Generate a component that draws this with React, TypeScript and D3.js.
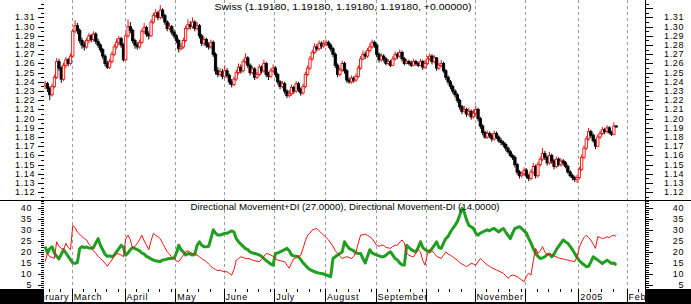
import React from "react";
import * as d3 from "d3";

const firstOpen = 1.236;
const closes = [
  1.2380,1.2330,1.2260,1.2350,1.2450,1.2620,1.2550,1.2430,1.2580,1.2640,1.2600,1.2680,
  1.2950,1.3010,1.2960,1.2850,1.2800,1.2780,1.2850,1.2900,1.2860,1.2920,1.2840,1.2800,1.2750,1.2680,1.2600,1.2560,1.2620,1.2700,1.2780,1.2830,1.2870,1.2800,1.2640,
  1.2900,1.3000,1.2960,1.2850,1.2800,1.2780,1.2830,1.2950,1.2990,1.2920,1.2900,1.3050,1.3120,1.3150,1.3100,1.3180,1.3120,1.3050,1.2980,1.3000,1.2940,1.2900,
  1.2850,1.2760,1.2780,1.2850,1.2980,1.3020,1.3000,1.3050,1.2980,1.3010,1.2900,1.2820,1.2860,1.2800,1.2780,1.2830,1.2700,1.2520,1.2480,1.2510,1.2460,
  1.2520,1.2470,1.2400,1.2370,1.2430,1.2500,1.2560,1.2520,1.2620,1.2660,1.2580,1.2500,1.2540,1.2450,1.2480,1.2560,1.2520,1.2600,1.2480,1.2460,1.2520,1.2550,
  1.2480,1.2400,1.2350,1.2380,1.2300,1.2250,1.2270,1.2340,1.2300,1.2380,1.2320,1.2280,1.2350,1.2480,1.2550,1.2650,1.2720,1.2780,1.2760,1.2820,1.2790,1.2810,
  1.2830,1.2800,1.2760,1.2700,1.2580,1.2480,1.2530,1.2600,1.2520,1.2420,1.2400,1.2440,1.2420,1.2460,1.2550,1.2650,1.2700,1.2680,1.2740,1.2780,1.2830,1.2800,
  1.2700,1.2640,1.2680,1.2650,1.2600,1.2620,1.2580,1.2650,1.2700,1.2680,1.2720,1.2650,1.2600,1.2620,1.2600,1.2580,1.2620,1.2600,1.2580,1.2620,1.2560,1.2600,
  1.2650,1.2680,1.2620,1.2660,1.2550,1.2580,1.2600,1.2520,1.2450,1.2400,1.2350,1.2300,1.2260,1.2200,1.2130,1.2080,1.2100,1.2050,1.2080,1.2020,1.2060,
  1.2100,1.2000,1.1920,1.1850,1.1800,1.1840,1.1820,1.1780,1.1840,1.1800,1.1760,1.1740,1.1720,1.1680,1.1640,1.1600,1.1580,1.1500,1.1420,1.1380,1.1400,1.1440,
  1.1380,1.1350,1.1420,1.1480,1.1380,1.1500,1.1560,1.1620,1.1580,1.1520,1.1600,1.1540,1.1480,1.1560,1.1500,1.1540,1.1520,1.1480,1.1420,1.1380,1.1360,1.1340,1.1360,
  1.1450,1.1580,1.1680,1.1780,1.1860,1.1820,1.1760,1.1700,1.1800,1.1840,1.1880,1.1860,1.1900,1.1850,1.1830,1.1920,1.1918,
];
const highs = [
  1.2410,1.2400,1.2350,1.2380,1.2480,1.2660,1.2650,1.2570,1.2610,1.2670,1.2660,1.2710,
  1.2980,1.3070,1.3040,1.2980,1.2880,1.2840,1.2880,1.2930,1.2920,1.2950,1.2940,1.2870,1.2820,1.2770,1.2700,1.2630,1.2650,1.2730,1.2810,1.2870,1.2900,1.2890,1.2820,
  1.2930,1.3080,1.3050,1.2980,1.2870,1.2830,1.2860,1.2980,1.3040,1.3010,1.2950,1.3080,1.3150,1.3190,1.3170,1.3235,1.3200,1.3140,1.3070,1.3040,1.3020,1.2970,
  1.2920,1.2870,1.2820,1.2880,1.3010,1.3080,1.3060,1.3100,1.3070,1.3050,1.3030,1.2920,1.2890,1.2880,1.2830,1.2860,1.2850,1.2720,1.2560,1.2550,1.2540,
  1.2580,1.2550,1.2490,1.2430,1.2460,1.2530,1.2600,1.2590,1.2650,1.2710,1.2680,1.2600,1.2570,1.2560,1.2510,1.2590,1.2580,1.2640,1.2620,1.2510,1.2550,1.2590,
  1.2570,1.2500,1.2420,1.2410,1.2400,1.2320,1.2310,1.2370,1.2360,1.2410,1.2400,1.2340,1.2380,1.2510,1.2580,1.2680,1.2750,1.2820,1.2810,1.2850,1.2840,1.2855,
  1.2860,1.2850,1.2820,1.2780,1.2720,1.2600,1.2560,1.2630,1.2620,1.2540,1.2450,1.2470,1.2460,1.2490,1.2580,1.2680,1.2740,1.2730,1.2770,1.2820,1.2860,1.2850,
  1.2820,1.2720,1.2710,1.2700,1.2670,1.2650,1.2640,1.2680,1.2730,1.2720,1.2750,1.2740,1.2670,1.2650,1.2640,1.2630,1.2650,1.2640,1.2620,1.2650,1.2640,1.2640,
  1.2680,1.2710,1.2700,1.2690,1.2670,1.2610,1.2640,1.2620,1.2540,1.2470,1.2420,1.2370,1.2320,1.2280,1.2220,1.2150,1.2140,1.2120,1.2120,1.2100,1.2100,
  1.2140,1.2120,1.2020,1.1940,1.1870,1.1870,1.1860,1.1840,1.1870,1.1860,1.1820,1.1790,1.1760,1.1740,1.1700,1.1660,1.1620,1.1600,1.1520,1.1440,1.1430,1.1470,
  1.1460,1.1400,1.1450,1.1520,1.1500,1.1530,1.1590,1.1680,1.1650,1.1600,1.1640,1.1620,1.1560,1.1590,1.1580,1.1570,1.1560,1.1540,1.1500,1.1440,1.1400,1.1380,1.1390,
  1.1480,1.1610,1.1710,1.1810,1.1900,1.1880,1.1840,1.1780,1.1830,1.1870,1.1910,1.1900,1.1930,1.1920,1.1870,1.1960,1.1930,
];
const lows = [
  1.2320,1.2290,1.2200,1.2240,1.2330,1.2430,1.2520,1.2390,1.2410,1.2550,1.2570,1.2580,
  1.2660,1.2930,1.2920,1.2820,1.2760,1.2740,1.2760,1.2820,1.2830,1.2840,1.2810,1.2770,1.2720,1.2650,1.2570,1.2540,1.2540,1.2600,1.2680,1.2760,1.2800,1.2770,1.2620,
  1.2630,1.2880,1.2930,1.2820,1.2760,1.2750,1.2760,1.2810,1.2920,1.2890,1.2860,1.2890,1.3030,1.3100,1.3070,1.3080,1.3090,1.3020,1.2950,1.2960,1.2910,1.2870,
  1.2820,1.2720,1.2740,1.2760,1.2830,1.2960,1.2970,1.2980,1.2950,1.2960,1.2870,1.2790,1.2790,1.2770,1.2750,1.2760,1.2670,1.2480,1.2450,1.2460,1.2430,
  1.2440,1.2440,1.2370,1.2340,1.2350,1.2410,1.2480,1.2490,1.2500,1.2600,1.2550,1.2470,1.2480,1.2420,1.2430,1.2460,1.2490,1.2500,1.2450,1.2420,1.2440,1.2500,
  1.2450,1.2370,1.2320,1.2330,1.2270,1.2225,1.2230,1.2250,1.2270,1.2280,1.2290,1.2250,1.2260,1.2330,1.2460,1.2530,1.2630,1.2700,1.2730,1.2740,1.2760,1.2770,
  1.2790,1.2770,1.2730,1.2670,1.2550,1.2450,1.2460,1.2510,1.2490,1.2390,1.2380,1.2380,1.2390,1.2400,1.2440,1.2530,1.2630,1.2650,1.2660,1.2720,1.2760,1.2770,
  1.2670,1.2610,1.2620,1.2620,1.2580,1.2580,1.2560,1.2570,1.2630,1.2650,1.2660,1.2620,1.2580,1.2590,1.2580,1.2560,1.2570,1.2580,1.2560,1.2570,1.2530,1.2540,
  1.2580,1.2630,1.2590,1.2600,1.2520,1.2530,1.2560,1.2500,1.2420,1.2370,1.2320,1.2270,1.2230,1.2170,1.2100,1.2050,1.2060,1.2020,1.2030,1.1990,1.2000,
  1.2040,1.1970,1.1890,1.1820,1.1780,1.1780,1.1790,1.1750,1.1760,1.1780,1.1740,1.1710,1.1690,1.1650,1.1620,1.1580,1.1550,1.1470,1.1390,1.1350,1.1360,1.1380,
  1.1350,1.1320,1.1330,1.1400,1.1350,1.1360,1.1480,1.1540,1.1550,1.1490,1.1500,1.1510,1.1450,1.1460,1.1480,1.1480,1.1490,1.1460,1.1400,1.1360,1.1330,1.1310,1.1300,
  1.1340,1.1430,1.1560,1.1660,1.1760,1.1790,1.1740,1.1670,1.1690,1.1780,1.1820,1.1830,1.1840,1.1830,1.1810,1.1820,1.1905,
];
const plusDI = [
  15.6,19.3,17.8,17.5,17,24.6,22.5,21.6,21,23.9,22,21,
  32,31,29,28,26.9,26,25.4,23.5,22.4,20.5,19.3,18,17,16,15,13.5,15,16.3,18.5,19.3,19,18.6,17.8,
  26,27.6,25.4,21.6,22.5,23.9,25.5,27.6,25,23.1,21,25,28.4,27.5,26.9,26,23.9,22,20,19,17.5,17,
  16,15.6,17,18.6,20,20.5,19.8,19.3,18.8,18.5,17.8,17,16.3,15.6,14.5,13.5,12.6,12,11.5,11.8,11.2,
  11,11,10.2,9.5,12,16.3,17,17.8,17.5,17,17,16.8,16.3,16,15.8,15.6,16.5,18,19.3,19,18.6,18,
  17,16.3,16,15.8,15.6,14,12.6,15,17,17.3,17.8,18.5,21.6,25,27.6,28.5,29.9,30.3,30.6,29.5,28.5,27.5,
  26.5,25.5,24,22.5,20.5,19.3,18,17,17.5,17.8,17.5,17,18,20,24,27.6,27.8,28,27.5,26.8,26,24.5,
  23,22.5,23,23,22,21.8,21.6,22.5,23,23,24.5,25.4,24,19.3,18.5,18,17.8,19.5,21,20,16,14,
  19,21,20.5,19.3,18,17.5,17,18.5,20,19,18.5,17.8,17,16.3,15.2,14.5,14,13.3,14,14.8,14.5,
  14,15.6,17,16,15,14,13.5,12.8,12.3,11.8,11.3,10.8,10.3,9.2,8,9,9.5,9.2,8.8,8,7.2,6.5,
  9,10.3,9.5,16,21.6,19.3,20.5,22.4,20,18.6,19,18.6,18.2,17.8,17.3,17,16.8,16.5,16.3,16,15.8,15.6,17.8,
  22,24.6,26.5,27.6,26.5,25.4,23.5,21.6,26.9,26.5,26,26.3,26.9,26.5,27.2,27.6,27,
];
const minusDI = [
  22.4,19.5,21.5,22.3,19.5,18,16.8,19,21,19.5,18,16.5,
  15,14.8,15.2,21.5,22.4,22,22.2,21.8,21.6,22,24,26,23,21,19,18,18.2,17.8,18.5,20,21.5,23,22,
  18.5,19.5,21,22,21.5,21,20.5,19.5,19,18,17.5,16.8,16.3,16,15.8,15.6,16.3,16.5,16.8,17,17,17.2,
  19.5,23,21,20,18.6,19.3,19,18.6,19,23,24.6,23,22.3,22.3,22.5,26,30,28.5,27.6,27.6,28,
  28.4,28.4,29,29.5,29,26,24.6,23.5,22.5,21.5,21,20,19.5,19.3,19,18.6,18,17,16,15.3,14.5,14,
  19.3,19.5,20,20.5,21,21.6,20.5,18.6,18.2,18,17.8,16.5,15,14,12.8,12,11.5,11,10.7,10.4,10.2,10,
  9.6,9.2,8.8,17,17.8,18.6,19.3,20,24.6,23,21.6,21,20.5,19.5,19.3,19.3,17,15,18,21,19.5,19,
  18.6,18.2,17.8,17.8,18.5,19.5,20,18.5,17,16.3,15,14.2,14,23,22,21,20.5,20,22,24.6,22,21,
  20.5,20,21.5,23,24.6,22,21.6,24,26,27,29,30.6,32,33.7,36.5,39.7,38,34.5,32,31.4,30.6,
  28.5,27.6,28.5,29,29.5,30,29.5,30.3,30.6,29.8,29,30,30.6,29,27.5,26,28.5,30.6,31,31.4,30.5,29.5,
  28.5,26,24,21.5,19.3,18,17,17.3,17.8,18.8,19,17.8,19,21,22.5,24,25.4,24.5,23.9,22.5,21,19.3,17.5,
  16,15,14.2,13.3,13.5,15.5,17.8,17,16.3,15.5,14.8,15.5,16.3,15.5,14.8,15,14,
];

const priceTicks = [1.12,1.13,1.14,1.15,1.16,1.17,1.18,1.19,1.20,1.21,1.22,1.23,1.24,1.25,1.26,1.27,1.28,1.29,1.30,1.31];
const diTicks = [5,10,15,20,25,30,35,40];
const monthLabels = ["February","March","April","May","June","July","August","September","October","November","December","2005","February"];
const monthStarts = [-8,12,35,57,78,100,122,144,166,187,209,232,253];
const monthLabelShown = [true,true,true,true,true,true,true,true,false,true,false,true,true];
const priceTitle = "Swiss (1.19180, 1.19180, 1.19180, 1.19180, +0.00000)";
const diTitle = "Directional Movement+DI (27.0000), Directional Movement-DI (14.0000)";

const W = 691, H = 304;
const L = 44, R = 645;
const FONT = "'Liberation Sans', Arial, sans-serif";
const UP = "#ee1111";
const DOWN = "#000000";
const GREEN = "#1f9e1f";

export default function App() {
  const x = d3.scaleLinear().domain([-0.5, 260.5]).range([L, R]);
  const yP = d3.scaleLinear().domain([1.1116, 1.329]).range([200, 0]);
  const yD = d3.scaleLinear().domain([3.2, 43.5]).range([289, 200]);
  const n = Math.min(closes.length, highs.length, lows.length);
  const step = x(1) - x(0);
  const bw = step * 1.0;

  const diLine = d3.line<number>().x((_, i) => x(i)).y((d) => yD(d));

  const minorP = d3.range(1.115, 1.33, 0.005);
  const diAll = d3.range(4, 44, 1);

  const textStyle: React.CSSProperties = { fontFamily: FONT, fontSize: 9, letterSpacing: 0.6 };

  const weekTicks: number[] = [];
  monthStarts.forEach((ms, k) => {
    const next = k + 1 < monthStarts.length ? monthStarts[k + 1] : 262;
    for (let j = 5; ms + j < next - 1; j += 5) weekTicks.push(ms + j);
  });

  return (
    <svg width={W} height={H} style={{ position: "absolute", left: 0, top: 0, background: "#fff" }}>
      <defs>
        <clipPath id="cTop"><rect x={L} y={0} width={R - L} height={200} /></clipPath>
        <clipPath id="cLow"><rect x={L} y={201} width={R - L} height={88} /></clipPath>
        <clipPath id="cStrip"><rect x={L} y={289} width={R - L} height={13} /></clipPath>
      </defs>
      <rect x={0} y={0} width={W} height={H} fill="#fff" />

      {/* month gridlines */}
      {monthStarts.filter((m) => m > 0).map((m, i) => (
        <line key={"g" + i} x1={Math.round(x(m - 0.5)) + 0.5} x2={Math.round(x(m - 0.5)) + 0.5} y1={0} y2={289}
          stroke="#9a9a9a" strokeWidth={1} strokeDasharray="3 3" />
      ))}

      {/* candles */}
      <g clipPath="url(#cTop)">
        {closes.slice(0, n).map((c, i) => {
          const o = i === 0 ? firstOpen : closes[i - 1];
          const up = c >= o;
          const col = up ? UP : DOWN;
          const cx = x(i);
          const yt = yP(Math.max(o, c));
          const yb = yP(Math.min(o, c));
          return (
            <g key={"k" + i}>
              <line x1={cx} x2={cx} y1={yP(highs[i])} y2={yP(lows[i])} stroke={col} strokeWidth={1} />
              <rect x={cx - bw / 2} y={yt} width={bw} height={Math.max(1, yb - yt)}
                fill={up ? "#fff" : DOWN} stroke={col} strokeWidth={0.9} />
            </g>
          );
        })}
      </g>

      {/* DI lines */}
      <g clipPath="url(#cLow)">
        <path d={diLine(minusDI) || ""} fill="none" stroke={GREEN} strokeWidth={3} strokeLinejoin="round" />
        <path d={diLine(plusDI) || ""} fill="none" stroke={UP} strokeWidth={1} />
      </g>

      {/* separator and right axis */}
      <line x1={0} x2={W} y1={200.5} y2={200.5} stroke="#000" strokeWidth={1} />
      <line x1={R + 0.5} x2={R + 0.5} y1={0} y2={289} stroke="#000" strokeWidth={1} />

      {/* price axes */}
      {minorP.map((t, i) => {
        const yy = Math.round(yP(t)) + 0.5;
        const major = Math.abs(Math.round(t * 100) - t * 100) < 1e-6;
        if (yy < 4 || yy > 198) return null;
        return (
          <g key={"pt" + i}>
            <line x1={major ? 38 : 41} x2={44} y1={yy} y2={yy} stroke="#000" />
            <line x1={R} x2={major ? R + 8 : R + 4} y1={yy} y2={yy} stroke="#000" />
          </g>
        );
      })}
      {priceTicks.map((t, i) => (
        <g key={"pl" + i} style={textStyle}>
          <text x={35} y={yP(t)} textAnchor="end" dominantBaseline="central">{t.toFixed(2)}</text>
          <text x={684} y={yP(t)} textAnchor="end" dominantBaseline="central">{t.toFixed(2)}</text>
        </g>
      ))}

      {/* DI axes */}
      {diAll.map((t, i) => {
        const yy = Math.round(yD(t)) + 0.5;
        const major = t % 5 === 0;
        return (
          <g key={"dt" + i}>
            <line x1={major ? 38 : 41} x2={44} y1={yy} y2={yy} stroke="#000" />
            <line x1={R} x2={major ? R + 8 : R + 4} y1={yy} y2={yy} stroke="#000" />
          </g>
        );
      })}
      {diTicks.map((t, i) => (
        <g key={"dl" + i} style={textStyle}>
          <text x={32} y={yD(t)} textAnchor="end" dominantBaseline="central">{t}</text>
          <text x={684} y={yD(t)} textAnchor="end" dominantBaseline="central">{t}</text>
        </g>
      ))}

      {/* titles */}
      <text x={343} y={10} textAnchor="middle" textLength={257} lengthAdjust="spacingAndGlyphs" style={{ ...textStyle, letterSpacing: 0 }}>{priceTitle}</text>
      <text x={345} y={210} textAnchor="middle" textLength={309} lengthAdjust="spacingAndGlyphs" style={{ ...textStyle, letterSpacing: 0 }}>{diTitle}</text>

      {/* time strip */}
      <rect x={0} y={289} width={W} height={H - 289} fill="#000" />
      <rect x={L} y={289} width={R - L} height={13} fill="#fff" />
      <g clipPath="url(#cStrip)">
        {weekTicks.map((w, i) => (
          <line key={"w" + i} x1={Math.round(x(w - 0.5)) + 0.5} x2={Math.round(x(w - 0.5)) + 0.5} y1={289} y2={292} stroke="#000" />
        ))}
        {monthStarts.map((m, i) => (
          <line key={"ms" + i} x1={Math.round(x(m - 0.5)) + 0.5} x2={Math.round(x(m - 0.5)) + 0.5} y1={289} y2={302} stroke="#000" />
        ))}
        {monthStarts.map((m, i) => monthLabelShown[i] ? (
          <text key={"ml" + i} x={x(m - 0.5) + 2} y={299.5} style={{ ...textStyle, letterSpacing: 0.7 }}>{monthLabels[i]}</text>
        ) : null)}
      </g>
    </svg>
  );
}
